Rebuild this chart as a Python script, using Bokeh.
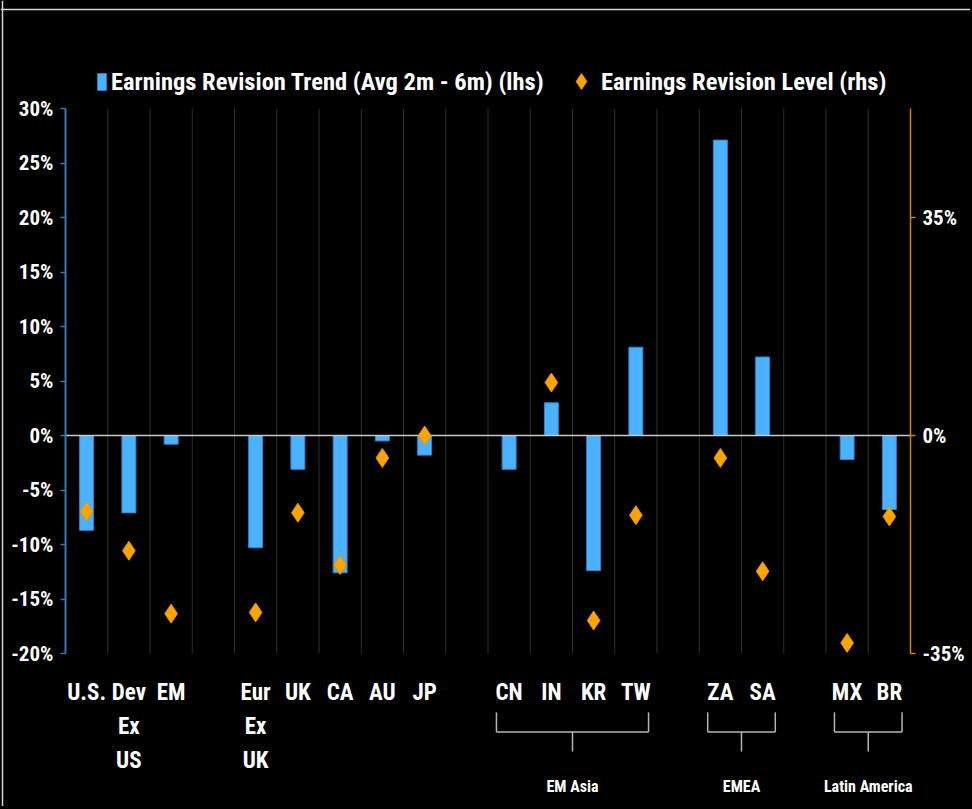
from bokeh.plotting import figure
from bokeh.models import (Range1d, LinearAxis, FixedTicker, Span, Legend, LegendItem,
                          ColumnDataSource)
from bokeh.core.properties import value
from bokeh.embed import file_html
from bokeh.resources import INLINE

# ---------------- data ----------------
categories = ["U.S.", "Dev Ex US", "EM", None, "Eur Ex UK", "UK", "CA", "AU", "JP", None,
              "CN", "IN", "KR", "TW", None, "ZA", "SA", None, "MX", "BR"]
trend = [-8.7, -7.1, -0.8, None, -10.3, -3.1, -12.6, -0.5, -1.8, None,
         -3.1, 3.0, -12.4, 8.1, None, 27.1, 7.2, None, -2.2, -6.8]
level = [-12.2, -18.5, -28.6, None, -28.4, -12.4, -20.8, -3.6, 0.0, None,
         None, 8.5, -29.7, -12.8, None, -3.6, -21.8, None, -33.3, -13.0]
groups = ["EM Asia", "EMEA", "Latin America"]
group_first = ["CN", "ZA", "MX"]
group_last = ["TW", "SA", "BR"]
lhs_ticks = [-20, -15, -10, -5, 0, 5, 10, 15, 20, 25, 30]
rhs_ticks = [-35, 0, 35]
lhs_range = (-20, 30)
rhs_range = (-35, 52.5)
trend_name = "Earnings Revision Trend (Avg 2m - 6m) (lhs)"
level_name = "Earnings Revision Level (rhs)"

# ---------------- layout / styling ----------------
W, H = 970, 806
FRAME_L, FRAME_R, FRAME_T, FRAME_B = 65, 910, 108, 653   # plot area in canvas px
FONT = "'Roboto Condensed', 'Liberation Sans Narrow', sans-serif"
BLUE = "#4cb2ff"
ORANGE = "#ffa500"
LHS_COLOR = "#3378b8"
RHS_COLOR = "#c9801a"

n = len(categories)
px_x = (FRAME_R - FRAME_L) / n
px_y = (FRAME_B - FRAME_T) / (lhs_range[1] - lhs_range[0])
k = (rhs_range[1] - rhs_range[0]) / (lhs_range[1] - lhs_range[0])
x_rng = Range1d(-0.5 - FRAME_L / px_x, n - 0.5 + (W - FRAME_R) / px_x)
y_rng = Range1d(lhs_range[0] - (H - FRAME_B) / px_y, lhs_range[1] + FRAME_T / px_y)
r_rng = Range1d(rhs_range[0] - k * (H - FRAME_B) / px_y, rhs_range[1] + k * FRAME_T / px_y)

bar_x = [i for i, c in enumerate(categories) if c is not None and trend[i] is not None]
bar_src = ColumnDataSource(dict(x=bar_x, top=[trend[i] for i in bar_x]))
dia_x = [i for i, c in enumerate(categories) if c is not None and level[i] is not None]
dia_src = ColumnDataSource(dict(x=dia_x, y=[level[i] for i in dia_x]))

p = figure(width=W, height=H, output_backend="svg", toolbar_location=None,
           x_range=x_rng, y_range=y_rng, min_border=0)
p.extra_y_ranges = {"rhs": r_rng}
p.background_fill_color = "black"
p.border_fill_color = "black"
p.outline_line_color = None
p.xgrid.grid_line_color = None
p.ygrid.grid_line_color = None

# outer frame border lines (top and left)
p.add_layout(Span(location=y_rng.end - 9.0 / px_y, dimension="width",
                  line_color="#d4d4d4", line_width=1.5))
p.add_layout(Span(location=x_rng.start + 2.0 / px_x, dimension="height",
                  line_color="#d4d4d4", line_width=1.5))

# vertical separators between slots, spanning the plot area
sep = [i + 0.5 for i in range(n - 1)]
p.segment(x0=sep, y0=[lhs_range[0]] * len(sep), x1=sep, y1=[lhs_range[1]] * len(sep),
          line_color="#2e2e2e", line_width=1)

bars = p.vbar(x="x", top="top", bottom=0, width=0.33, source=bar_src,
              fill_color=BLUE, line_color="#2f86c9", line_width=1)
# zero line across plot area
p.segment(x0=[-0.5], y0=[0], x1=[n - 0.5], y1=[0], line_color="#c8c8c8", line_width=1.5)
dias = p.scatter(x="x", y="y", source=dia_src, marker="diamond", size=19,
                 fill_color=ORANGE, line_color="#e89400", line_width=1, y_range_name="rhs")

# left axis
ya = p.yaxis[0]
ya.fixed_location = -0.5
ya.bounds = lhs_range
ya.ticker = FixedTicker(ticks=lhs_ticks, minor_ticks=[])
ya.major_label_overrides = {t: f"{t}%" for t in lhs_ticks}
ya.axis_line_color = LHS_COLOR
ya.axis_line_width = 2
ya.major_tick_line_color = LHS_COLOR
ya.major_tick_line_width = 1.5
ya.major_tick_in = 0
ya.major_tick_out = 5
ya.minor_tick_line_color = None
ya.major_label_text_color = "white"
ya.major_label_text_font = FONT
ya.major_label_text_font_style = "bold"
ya.major_label_text_font_size = "21px"
ya.major_label_standoff = 7

# right axis
ra = LinearAxis(y_range_name="rhs", fixed_location=n - 0.5, bounds=rhs_range)
ra.ticker = FixedTicker(ticks=rhs_ticks, minor_ticks=[])
ra.major_label_overrides = {t: f"{t}%" for t in rhs_ticks}
ra.axis_line_color = RHS_COLOR
ra.axis_line_width = 1.5
ra.major_tick_line_color = RHS_COLOR
ra.major_tick_line_width = 1.5
ra.major_tick_in = 0
ra.major_tick_out = 5
ra.minor_tick_line_color = None
ra.major_label_text_color = "white"
ra.major_label_text_font = FONT
ra.major_label_text_font_style = "bold"
ra.major_label_text_font_size = "21px"
ra.major_label_standoff = 7
p.add_layout(ra, "right")

# bottom axis with category labels
xa = p.xaxis[0]
xa.fixed_location = lhs_range[0]
xa.ticker = FixedTicker(ticks=[i for i, c in enumerate(categories) if c], minor_ticks=[])
xa.major_label_overrides = {i: c.replace(" ", "\n") for i, c in enumerate(categories) if c}
xa.axis_line_color = None
xa.major_tick_line_color = None
xa.minor_tick_line_color = None
xa.major_label_text_color = "white"
xa.major_label_text_font = FONT
xa.major_label_text_font_style = "bold"
xa.major_label_text_font_size = "23px"
xa.major_label_text_line_height = 1.27
xa.major_label_standoff = 19

# group brackets below the category labels (left-axis units)
Y_TOP, Y_H, Y_STEM, Y_LAB = -25.4, -27.2, -29.0, -32.2
PAD = 0.3
xs0, ys0, xs1, ys1, lx, ly = [], [], [], [], [], []
for g, a, b in zip(groups, group_first, group_last):
    x0 = categories.index(a) - PAD
    x1 = categories.index(b) + PAD
    xc = (x0 + x1) / 2
    for (sx, sy, ex, ey) in [(x0, Y_TOP, x0, Y_H), (x0, Y_H, x1, Y_H),
                             (x1, Y_TOP, x1, Y_H), (xc, Y_H, xc, Y_STEM)]:
        xs0.append(sx); ys0.append(sy); xs1.append(ex); ys1.append(ey)
    lx.append(xc); ly.append(Y_LAB)
p.segment(x0=xs0, y0=ys0, x1=xs1, y1=ys1, line_color="#b4b4b4", line_width=1.5)
p.text(x=lx, y=ly, text=groups, text_align="center", text_baseline="middle",
       text_color="white", text_font=value(FONT), text_font_style="bold",
       text_font_size="16px")

# legends (two, so each marker gets its own glyph box)
leg1 = Legend(items=[LegendItem(label=trend_name, renderers=[bars])],
              location=(96, 710), glyph_width=11, glyph_height=21, label_standoff=4,
              padding=0, margin=0, spacing=0,
              label_text_color="white", label_text_font=FONT, label_text_font_style="bold",
              label_text_font_size="24.5px", background_fill_alpha=0, border_line_color=None)
leg2 = Legend(items=[LegendItem(label=level_name, renderers=[dias])],
              location=(561, 705), glyph_width=40, glyph_height=40, label_standoff=0,
              padding=0, margin=0, spacing=0,
              label_text_color="white", label_text_font=FONT, label_text_font_style="bold",
              label_text_font_size="24.5px", background_fill_alpha=0, border_line_color=None)
p.add_layout(leg1, "center")
p.add_layout(leg2, "center")

html = file_html(p, INLINE, title="Earnings Revision")
html = html.replace("</head>", "<style>html, body { background: #000; }</style></head>", 1)
open("out.html", "w").write(html)
